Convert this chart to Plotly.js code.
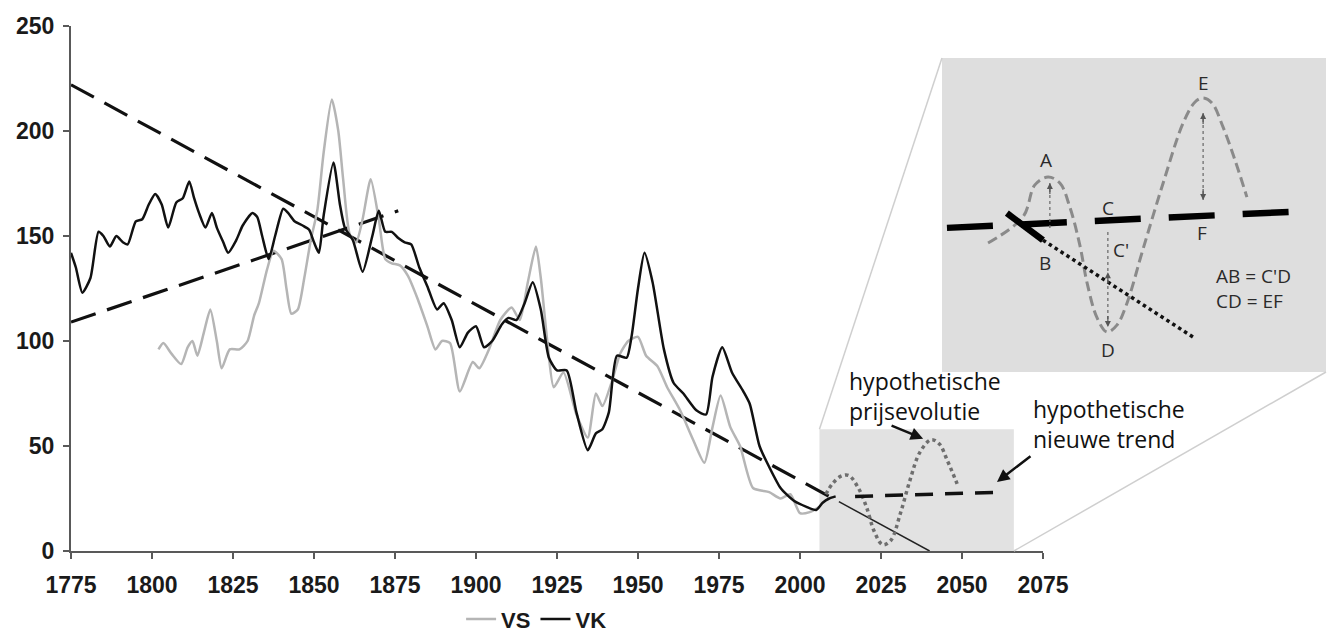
<!DOCTYPE html>
<html>
<head>
<meta charset="utf-8">
<script src="https://cdn.plot.ly/plotly-3.0.1.min.js"></script>
<style>html,body{margin:0;padding:0;background:#fff;}#chart{width:1328px;height:639px;}</style>
</head>
<body>
<div id="chart"></div>
<script>
// ---- Main series ----
const vkYears = [1775,1776.5,1778.5,1781,1783.5,1785,1787,1789,1791,1792.5,1795,1797,1799,1801,1803,1805,1807.5,1809.5,1811.5,1813,1814.5,1816.5,1818.5,1820,1822,1823.5,1826,1828,1831,1832.5,1834,1836,1838,1840.5,1842,1844,1846.5,1848.5,1850,1851.5,1853,1856,1858,1859.5,1862,1865,1868,1870,1872,1874,1876,1878,1880,1882.5,1885,1888,1890,1892.5,1895,1897.5,1900,1902.5,1905,1908,1910,1912.5,1915,1917.5,1920,1922.5,1925,1928,1931,1934.5,1937,1939,1941,1943.5,1946.5,1948,1950,1952,1954.5,1958,1961,1964,1968,1971,1973,1976,1979,1982.5,1984.5,1987.5,1990.5,1994,1998,2002,2005,2007,2009,2011];
const vkValues = [142,135,123,130,152,150,145,150,147,146,157,158,165,170,165,154,166,168,176,168,161,154,161,154,147,142,148,155,161,159,150,139,150,163,161,157,155,153,147,142,160,185,165,154,148,133,150,162,152,152,149,147,146,135,126,115,118,110,97,104,107,97,100,108,111,110,118,128,115,92,86,86,66,48,56,58,66,93,92,102,125,142,128,96,80,75,67,65,83,97,85,76,70,50,40,30,24,21,19.5,23,25,26];

const vsYears = [1802,1803.5,1806,1809,1811,1812.5,1814,1816,1818,1820,1821.5,1824,1827,1829.5,1831.5,1833,1835.5,1837.5,1840,1841.5,1843,1845,1847,1849,1851,1853,1855.5,1857.5,1859,1861,1863,1865,1867.5,1870,1872,1874,1876.5,1879,1882,1885,1887.5,1889.5,1892,1895,1899,1901,1904,1907.5,1911,1913.5,1916,1918.5,1920,1922,1924,1927,1931,1934.5,1937,1939,1942,1944.5,1947,1950,1952.5,1956,1959,1963,1967,1970.5,1973,1975.5,1978.5,1981.5,1985.5,1990.5,1994,1997,2000,2003,2006];
const vsValues = [96,99,94,89,97,100,93,104,115,100,87,96,96,100,112,118,134,143,139,125,113,115,130,148,162,190,215,200,177,151,147,158,177,158,139,137,136,131,120,107,96,100,99,76,90,87,96,110,116,110,128,145,130,100,78,85,65,54,75,69,81,94,100,102,93,88,78,67,53,42,59,74,59,50,30,28,25,27,18,18.5,21];

// ---- Trend lines ----
const trendDownYears = [1775, 2012];
const trendDownValues = [222, 23.5];
const trendTailYears = [2012, 2040];
const trendTailValues = [23.5, 0];
const trendUpYears = [1775, 1876];
const trendUpValues = [109, 162];

// ---- Hypothetical evolution ----
const hypoYears = [2008,2010,2012.5,2015,2018,2020.5,2023,2025.5,2028,2031,2034,2037,2040.5,2043,2045.5,2048.5];
const hypoValues = [27,32,35.5,36,30,21,9,3,5,18,34,47,53,51,43,32];
const newTrendYears = [2017, 2062];
const newTrendValues = [26, 28];
const zoomBoxYears = [2006, 2066];
const zoomBoxValues = [0, 58];

// ---- Inset schematic (units 0..100) ----
const insetCurveX = [12.0,21.1,24.2,27.6,30.7,33.3,35.9,37.8,40.4,43.0,45.6,48.2,52.3,57.6,62.8,65.9,68.0,70.3,73.2,76.3,79.4];
const insetCurveY = [41.1,49.4,59.6,62.1,60.2,52.5,40.4,28.3,17.2,12.7,15.0,22.0,38.9,60.2,79.3,86.0,87.3,85.7,78.0,67.5,55.7];
const insetNewTrendX = [1.3, 90.6];
const insetNewTrendY = [45.9, 51.0];
const insetOldTrendX = [16.9, 26.3];
const insetOldTrendY = [50.6, 42.0];
const insetOldDotX = [26.3, 65.4];
const insetOldDotY = [42.0, 11.1];
const insetLabelText = ['A','B','C',"C'",'D','E','F','AB = C\'D','CD = EF'];
const insetLabelX = [27.1,26.8,43.2,46.5,43.2,68.0,67.7,81.0,80.0];
const insetLabelY = [67.5,34.7,52.2,38.8,7.0,92.0,44.3,30.6,22.6];
// arrows: [x, yFrom, yTo]
const arrowAB = [28.1, 45.9, 60.2];
const arrowCpD = [43.2, 44.6, 31.8, 14.3];
const arrowEF = [68.0, 82.5, 54.8];

const xRange = [1775, 2075];
const yRange = [0, 250];
const mainDom = [0, 0.7745];
const insetDomX = [0.694, 1.0];
const insetDomY = [0.341, 0.939];

function px(year){ return mainDom[0] + (year - xRange[0])/(xRange[1]-xRange[0])*(mainDom[1]-mainDom[0]); }
function py(v){ return (v - yRange[0])/(yRange[1]-yRange[0]); }

const traces = [
  {x: trendDownYears, y: trendDownValues, mode:'lines', line:{color:'#111', width:3.2, dash:'26px,12px'}, showlegend:false, hoverinfo:'skip'},
  {x: trendTailYears, y: trendTailValues, mode:'lines', line:{color:'#222', width:1.5}, showlegend:false, hoverinfo:'skip'},
  {x: trendUpYears, y: trendUpValues, mode:'lines', line:{color:'#111', width:3.2, dash:'26px,12px'}, showlegend:false, hoverinfo:'skip'},
  {x: vsYears, y: vsValues, name:'VS', mode:'lines', line:{color:'#b5b5b5', width:2.5, shape:'spline', smoothing:0.6}},
  {x: vkYears, y: vkValues, name:'VK', mode:'lines', line:{color:'#111', width:2.5, shape:'spline', smoothing:0.6}},
  {x: hypoYears, y: hypoValues, mode:'lines', line:{color:'#6e6e6e', width:3.5, dash:'dot', shape:'spline'}, showlegend:false, hoverinfo:'skip'},
  {x: newTrendYears, y: newTrendValues, mode:'lines', line:{color:'#111', width:3.5, dash:'18px,12px'}, showlegend:false, hoverinfo:'skip'},
  // inset
  {x: insetCurveX, y: insetCurveY, xaxis:'x2', yaxis:'y2', mode:'lines', line:{color:'#8a8a8a', width:3, dash:'10px,5px', shape:'spline'}, showlegend:false, hoverinfo:'skip'},
  {x: insetNewTrendX, y: insetNewTrendY, xaxis:'x2', yaxis:'y2', mode:'lines', line:{color:'#000', width:6.5, dash:'46px,28px'}, showlegend:false, hoverinfo:'skip'},
  {x: insetOldTrendX, y: insetOldTrendY, xaxis:'x2', yaxis:'y2', mode:'lines', line:{color:'#000', width:6.5}, showlegend:false, hoverinfo:'skip'},
  {x: insetOldDotX, y: insetOldDotY, xaxis:'x2', yaxis:'y2', mode:'lines', line:{color:'#111', width:3.5, dash:'dot'}, showlegend:false, hoverinfo:'skip'},
  {x: [arrowAB[0], arrowAB[0]], y: [arrowAB[1], arrowAB[2]], xaxis:'x2', yaxis:'y2', mode:'lines', line:{color:'#666', width:1.2, dash:'dot'}, showlegend:false, hoverinfo:'skip'},
  {x: [arrowCpD[0], arrowCpD[0]], y: [arrowCpD[1], arrowCpD[3]], xaxis:'x2', yaxis:'y2', mode:'lines', line:{color:'#666', width:1.2, dash:'dot'}, showlegend:false, hoverinfo:'skip'},
  {x: [arrowEF[0], arrowEF[0]], y: [arrowEF[1], arrowEF[2]], xaxis:'x2', yaxis:'y2', mode:'lines', line:{color:'#666', width:1.2, dash:'dot'}, showlegend:false, hoverinfo:'skip'}
];

function head(x, yFrom, yTo){
  const dir = yTo > yFrom ? 1 : -1;
  return {xref:'x2', yref:'y2', axref:'x2', ayref:'y2', x:x, y:yTo, ax:x, ay:yTo - dir*4, text:'', showarrow:true, arrowhead:2, arrowsize:1, arrowwidth:1.2, arrowcolor:'#555'};
}

const textFont = {family:'Open Sans, Noto Sans, sans-serif', size:23, color:'#111'};
const annotations = [
  {xref:'x', yref:'y', x:2014.5, y:73.8, xanchor:'left', yanchor:'middle', align:'left', text:'hypothetische<br>prijsevolutie', showarrow:false, font:textFont},
  {xref:'x', yref:'y', x:2071.3, y:60.5, xanchor:'left', yanchor:'middle', align:'left', text:'hypothetische<br>nieuwe trend', showarrow:false, font:textFont},
  {xref:'x', yref:'y', axref:'x', ayref:'y', x:2038, y:53.5, ax:2027.8, ay:60, text:'', showarrow:true, arrowhead:2, arrowsize:1, arrowwidth:2.5, arrowcolor:'#111'},
  {xref:'x', yref:'y', axref:'x', ayref:'y', x:2060.8, y:32.9, ax:2071.6, ay:45.7, text:'', showarrow:true, arrowhead:2, arrowsize:1, arrowwidth:2.5, arrowcolor:'#111'},
  head(arrowAB[0], arrowAB[1], arrowAB[2]),
  head(arrowCpD[0], arrowCpD[2], arrowCpD[3]),
  head(arrowCpD[0], arrowCpD[3], arrowCpD[2]),
  head(arrowEF[0], arrowEF[1], arrowEF[2]),
  head(arrowEF[0], arrowEF[2], arrowEF[1])
];
insetLabelText.forEach((t,i)=>{
  annotations.push({xref:'x2', yref:'y2', x:insetLabelX[i], y:insetLabelY[i], text:t, showarrow:false, xanchor:'center', yanchor:'middle',
    font:{family:'Open Sans, Noto Sans, sans-serif', size:19, color:'#2a2a2a'}});
});

const shapes = [
  {type:'rect', xref:'x', yref:'y', x0:zoomBoxYears[0], x1:zoomBoxYears[1], y0:zoomBoxValues[0], y1:zoomBoxValues[1], fillcolor:'#e2e2e2', line:{width:0}, layer:'below'},
  {type:'rect', xref:'x2', yref:'y2', x0:0, x1:100, y0:0, y1:100, fillcolor:'#dedede', line:{width:0}, layer:'below'},
  {type:'line', xref:'paper', yref:'paper', x0:px(zoomBoxYears[0]), y0:py(zoomBoxValues[1]), x1:insetDomX[0], y1:insetDomY[1], line:{color:'#cfcfcf', width:1.5}},
  {type:'line', xref:'paper', yref:'paper', x0:px(zoomBoxYears[1]), y0:py(zoomBoxValues[0]), x1:insetDomX[1], y1:insetDomY[0], line:{color:'#cfcfcf', width:1.5}}
];

const tickFont = {family:'Liberation Sans, Arial, sans-serif', size:23, color:'#1a1a1a', weight:'bold'};
const layout = {
  width:1328, height:639,
  margin:{l:71, r:2, t:26, b:88, autoexpand:false},
  paper_bgcolor:'#fff', plot_bgcolor:'rgba(0,0,0,0)',
  showlegend:true,
  legend:{orientation:'h', x:0.371, xanchor:'center', y:-0.13, yanchor:'middle', font:{family:'Liberation Sans, Arial, sans-serif', size:22, color:'#1a1a1a', weight:'bold'}, bgcolor:'rgba(0,0,0,0)'},
  xaxis:{domain:mainDom, range:xRange, tick0:1775, dtick:25, showgrid:false, zeroline:false, showline:true, linecolor:'#595959', linewidth:2, ticks:'outside', ticklen:6, tickwidth:2, tickcolor:'#595959', tickfont:tickFont, ticklabelstandoff:6, automargin:false, fixedrange:true},
  yaxis:{domain:[0,1], range:yRange, dtick:50, showgrid:false, zeroline:false, showline:true, linecolor:'#595959', linewidth:2, ticks:'outside', ticklen:6, tickwidth:2, tickcolor:'#595959', tickfont:tickFont, ticklabelstandoff:4, automargin:false, fixedrange:true},
  xaxis2:{domain:insetDomX, range:[0,100], visible:false, anchor:'y2', fixedrange:true},
  yaxis2:{domain:insetDomY, range:[0,100], visible:false, anchor:'x2', fixedrange:true},
  shapes:shapes,
  annotations:annotations
};

Plotly.newPlot('chart', traces, layout, {displayModeBar:false, staticPlot:true});
</script>
</body>
</html>
